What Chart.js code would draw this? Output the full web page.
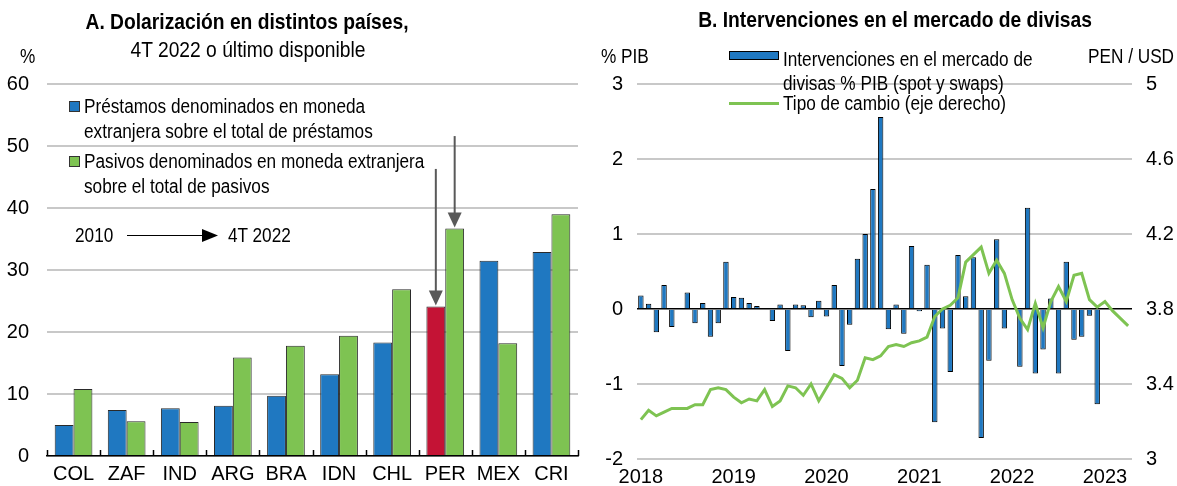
<!DOCTYPE html>
<html>
<head>
<meta charset="utf-8">
<script src="https://cdn.jsdelivr.net/npm/chart.js@4.4.1/dist/chart.umd.min.js"></script>
<style>
body{margin:0;background:#fff;width:1177px;height:486px;overflow:hidden;position:relative;
  font-family:"Liberation Sans Narrow","Arial Narrow","Liberation Sans",Arial,sans-serif;color:#000}
.t{position:absolute;white-space:nowrap;line-height:1;font-size:20px;
  transform:translateY(-50%) scaleX(0.86);transform-origin:left center}
.r{transform-origin:right center}
.c{transform:translate(-50%,-50%) scaleX(0.875);transform-origin:center center;font-size:22px}
.b{font-weight:bold}
.sq{position:absolute;width:9px;height:9px;border:1px solid #333}
#cA{position:absolute;left:0;top:0}
#cB{position:absolute;left:590px;top:0}
</style>
</head>
<body>
<canvas id="cA" width="590" height="486"></canvas>
<canvas id="cB" width="587" height="486"></canvas>

<div class="t c b" style="left:247px;top:22px">A. Dolarización en distintos países,</div>
<div class="t c" style="left:248px;top:50px">4T 2022 o último disponible</div>
<div class="t" style="left:20px;top:56px">%</div>
<div class="sq" style="left:69px;top:101px;background:#1f78c1"></div>
<div class="t" style="left:84px;top:106px">Préstamos denominados en moneda</div>
<div class="t" style="left:84px;top:131px">extranjera sobre el total de préstamos</div>
<div class="sq" style="left:69px;top:156px;background:#7ec352"></div>
<div class="t" style="left:84px;top:161px">Pasivos denominados en moneda extranjera</div>
<div class="t" style="left:84px;top:186px">sobre el total de pasivos</div>
<div class="t" style="left:75px;top:235px">2010</div>
<div class="t" style="left:228px;top:235px">4T 2022</div>

<div class="t c b" style="left:895px;top:20px">B. Intervenciones en el mercado de divisas</div>
<div class="t" style="left:601px;top:56px">% PIB</div>
<div class="t r" style="right:3px;top:56px">PEN / USD</div>
<div style="position:absolute;left:729px;top:51px;width:48px;height:7px;background:#1f78c1;border:1px solid #000"></div>
<div class="t" style="left:783px;top:59px">Intervenciones en el mercado de</div>
<div class="t" style="left:783px;top:83px">divisas % PIB (spot y swaps)</div>
<div style="position:absolute;left:729px;top:102px;width:50px;height:3px;background:#7ec352"></div>
<div class="t" style="left:783px;top:103px">Tipo de cambio (eje derecho)</div>

<script>
// Panel A: dolarización
const countries = ['COL', 'ZAF', 'IND', 'ARG', 'BRA', 'IDN', 'CHL', 'PER', 'MEX', 'CRI']
const loansFx = [5.0, 7.4, 7.7, 8.1, 9.7, 13.2, 18.3, 24.1, 31.5, 32.9]
const liabFx = [10.8, 5.6, 5.5, 15.9, 17.8, 19.4, 26.9, 36.7, 18.2, 39.0]
const ticksA = [0, 10, 20, 30, 40, 50, 60]

// Panel B: intervenciones (% PIB) y tipo de cambio, mensual ene-2018 a abr-2023
const months = []
for (let y = 2018; y <= 2023; y++) {
	for (let m = 1; m <= 12; m++) {
		if (y < 2023 || m <= 4) months.push(y + '-' + String(m).padStart(2, '0'))
	}
}
const interv = [
	0.18, 0.07, -0.31, 0.32, -0.24, -0.01, 0.22, -0.19, 0.08, -0.37, -0.19, 0.63,
	0.16, 0.15, 0.08, 0.04, -0.01, -0.16, 0.06, -0.56, 0.06, 0.05, -0.11, 0.11,
	-0.10, 0.32, -0.76, -0.21, 0.67, 1.00, 1.60, 2.56, -0.27, 0.06, -0.33, 0.84,
	-0.03, 0.59, -1.51, -0.26, -0.84, 0.72, 0.17, 0.69, -1.72, -0.69, 0.93, -0.26,
	0.00, -0.77, 1.35, -0.86, -0.54, 0.14, -0.86, 0.63, -0.41, -0.37, -0.09, -1.27
]
const fxRate = [
	3.21, 3.26, 3.23, 3.25, 3.27, 3.27, 3.27, 3.29, 3.29, 3.37, 3.38, 3.37,
	3.33, 3.30, 3.32, 3.31, 3.37, 3.28, 3.31, 3.39, 3.38, 3.34, 3.40, 3.31,
	3.38, 3.45, 3.43, 3.38, 3.42, 3.54, 3.53, 3.55, 3.60, 3.61, 3.60, 3.62,
	3.63, 3.65, 3.76, 3.80, 3.82, 3.86, 4.05, 4.09, 4.13, 3.99, 4.06, 3.99,
	3.85, 3.75, 3.69, 3.83, 3.70, 3.84, 3.92, 3.84, 3.98, 3.99, 3.85, 3.81,
	3.84, 3.79, 3.75, 3.71
]

const BLUE = '#1f78c1'
const GREEN = '#7ec352'
const RED = '#c41335'
const GRID = '#c8c8c8'
const FONT = { family: '"Liberation Sans","Arial",sans-serif', size: 20 }

Chart.defaults.font = FONT
Chart.defaults.color = '#000'

function downArrow(ctx, x, y0, y1) {
	ctx.save()
	ctx.strokeStyle = '#595959'
	ctx.fillStyle = '#595959'
	ctx.lineWidth = 2
	ctx.beginPath()
	ctx.moveTo(x, y0)
	ctx.lineTo(x, y1 - 14)
	ctx.stroke()
	ctx.beginPath()
	ctx.moveTo(x - 7, y1 - 15)
	ctx.lineTo(x + 7, y1 - 15)
	ctx.lineTo(x, y1)
	ctx.closePath()
	ctx.fill()
	ctx.restore()
}

const annotA = {
	id: 'annotA',
	afterDatasetsDraw(chart) {
		const ctx = chart.ctx
		const ys = chart.scales.y, xs = chart.scales.x
		const per = countries.indexOf('PER')
		const b0 = chart.getDatasetMeta(0).data[per]
		const b1 = chart.getDatasetMeta(1).data[per]
		downArrow(ctx, b0.x, ys.getPixelForValue(46.3), b0.y - 1)
		downArrow(ctx, b1.x, ys.getPixelForValue(51.6), b1.y - 1)

		// small tick marks between categories, pointing up
		ctx.save()
		ctx.strokeStyle = '#000'
		ctx.lineWidth = 1.5
		const step = xs.width / countries.length
		for (let i = 0; i <= countries.length; i++) {
			const px = Math.round(xs.left + i * step) + 0.5
			ctx.beginPath()
			ctx.moveTo(px, xs.top)
			ctx.lineTo(px, xs.top - 6)
			ctx.stroke()
		}
		// 2010 -> 4T 2022
		ctx.lineWidth = 1.2
		ctx.beginPath()
		ctx.moveTo(127, 235.5)
		ctx.lineTo(205, 235.5)
		ctx.stroke()
		ctx.fillStyle = '#000'
		ctx.beginPath()
		ctx.moveTo(202, 229)
		ctx.lineTo(218, 235.5)
		ctx.lineTo(202, 242)
		ctx.closePath()
		ctx.fill()
		ctx.restore()
	}
}

new Chart(document.getElementById('cA'), {
	type: 'bar',
	data: {
		labels: countries,
		datasets: [{
			data: loansFx,
			backgroundColor: countries.map(c => c === 'PER' ? RED : BLUE),
			borderColor: '#2a2a2a',
			borderWidth: 1
		}, {
			data: liabFx,
			backgroundColor: GREEN,
			borderColor: '#2a2a2a',
			borderWidth: 1
		}]
	},
	options: {
		responsive: false,
		animation: false,
		layout: { padding: { top: 84, right: 12, left: 0, bottom: 0 } },
		plugins: { legend: { display: false }, tooltip: { enabled: false } },
		datasets: { bar: { categoryPercentage: 0.71, barPercentage: 1.0 } },
		scales: {
			x: {
				grid: { display: false, drawTicks: false },
				border: { display: true, color: '#000', width: 1.5 },
				ticks: { padding: 6, maxRotation: 0 },
				afterFit: s => { s.height = 27 }
			},
			y: {
				min: 0, max: 60,
				afterBuildTicks: s => { s.ticks = ticksA.map(v => ({ value: v })) },
				grid: { color: GRID, lineWidth: 2, drawTicks: false },
				border: { display: false },
				ticks: { padding: 18 },
				afterFit: s => { s.width = 47 }
			}
		}
	},
	plugins: [annotA]
})

new Chart(document.getElementById('cB'), {
	data: {
		labels: months,
		datasets: [{
			type: 'line',
			data: fxRate,
			yAxisID: 'y1',
			borderColor: GREEN,
			borderWidth: 3,
			pointRadius: 0,
			tension: 0,
			order: 0
		}, {
			type: 'bar',
			data: interv,
			yAxisID: 'y',
			backgroundColor: BLUE,
			borderColor: '#000',
			borderWidth: 1,
			barPercentage: 0.7,
			categoryPercentage: 1.0,
			order: 1
		}]
	},
	options: {
		responsive: false,
		animation: false,
		layout: { padding: { top: 84, right: 0, left: 0, bottom: 0 } },
		plugins: { legend: { display: false }, tooltip: { enabled: false } },
		scales: {
			x: {
				grid: { display: false, drawTicks: false },
				border: { display: false },
				ticks: {
					autoSkip: false, maxRotation: 0, padding: 6,
					callback: (v, i) => months[i].endsWith('-01') ? months[i].slice(0, 4) : ''
				},
				afterFit: s => { s.height = 27 }
			},
			y: {
				position: 'left',
				min: -2, max: 3,
				ticks: { stepSize: 1, padding: 14 },
				grid: {
					drawTicks: false,
					color: c => c.tick.value === 0 ? '#000' : GRID,
					lineWidth: c => c.tick.value === 0 ? 1.5 : 2
				},
				border: { display: false },
				afterFit: s => { s.width = 47 }
			},
			y1: {
				position: 'right',
				min: 3, max: 5,
				ticks: { stepSize: 0.4, padding: 14, callback: v => String(Number(v.toFixed(1))) },
				grid: { display: false, drawTicks: false },
				border: { display: false },
				afterFit: s => { s.width = 45 }
			}
		}
	}
})
</script>
</body>
</html>
